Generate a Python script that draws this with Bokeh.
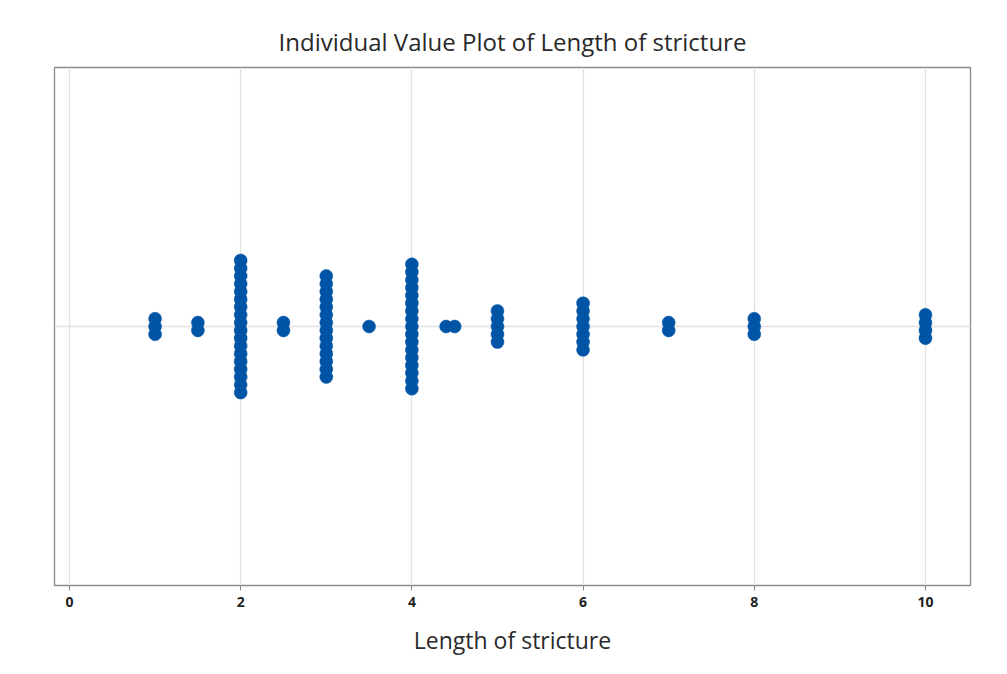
from bokeh.plotting import figure
from bokeh.models import Range1d, FixedTicker, Span, ColumnDataSource
from bokeh.embed import file_html
from bokeh.resources import INLINE

# Data: distinct stricture lengths and how many patients share each
lengths = [1, 1.5, 2, 2.5, 3, 3.5, 4, 4.4, 4.5, 5, 6, 7, 8, 10]
counts = [3, 2, 18, 2, 14, 1, 17, 1, 1, 5, 7, 2, 3, 4]
x_ticks = [0, 2, 4, 6, 8, 10]

# Layout of the symmetric vertical stacks (display only)
step = 0.030
xs, ys = [], []
for v, n in zip(lengths, counts):
    for i in range(n):
        xs.append(v)
        ys.append((i - (n - 1) / 2) * step)

src = ColumnDataSource(dict(x=xs, y=ys))

FONT = "Open Sans"
p = figure(width=991, height=658, output_backend="svg", toolbar_location=None,
           x_range=Range1d(-0.175, 10.526), y_range=Range1d(-1, 1),
           title="Individual Value Plot of Length of stricture",
           min_border_left=54, min_border_right=21, min_border_top=67,
           min_border_bottom=72)

p.title.align = "center"
p.title.text_font = FONT
p.title.text_font_size = "24px"
p.title.text_font_style = "normal"
p.title.text_color = "#2a2a2a"
p.title.offset = 0
p.title.standoff = 19

p.add_layout(Span(location=0, dimension="width", line_color="#e2e2e2",
                  line_width=1.3, level="underlay"))

p.scatter("x", "y", source=src, size=13, fill_color="#0054A6", line_color="#0054A6",
          line_width=0.5)

p.yaxis.visible = False
p.ygrid.grid_line_color = None

p.xaxis.ticker = FixedTicker(ticks=x_ticks)
p.xaxis.axis_label = "Length of stricture"
p.xaxis.axis_label_text_font = FONT
p.xaxis.axis_label_text_font_size = "23px"
p.xaxis.axis_label_text_font_style = "normal"
p.xaxis.axis_label_text_color = "#2a2a2a"
p.xaxis.axis_label_standoff = 14
p.xaxis.major_label_text_font = FONT
p.xaxis.major_label_text_font_size = "14px"
p.xaxis.major_label_text_font_style = "bold"
p.xaxis.major_label_text_color = "#222222"
p.xaxis.major_label_standoff = 6
p.xaxis.axis_line_color = None
p.xaxis.major_tick_line_color = "#888888"
p.xaxis.major_tick_out = 5
p.xaxis.major_tick_in = 0
p.xaxis.minor_tick_line_color = None
p.xgrid.grid_line_color = "#e2e2e2"
p.xgrid.grid_line_width = 1.3

p.outline_line_color = "#8a8a8a"
p.outline_line_width = 1.3
p.background_fill_color = "white"
p.border_fill_color = "white"

open("out.html", "w").write(file_html(p, INLINE))
